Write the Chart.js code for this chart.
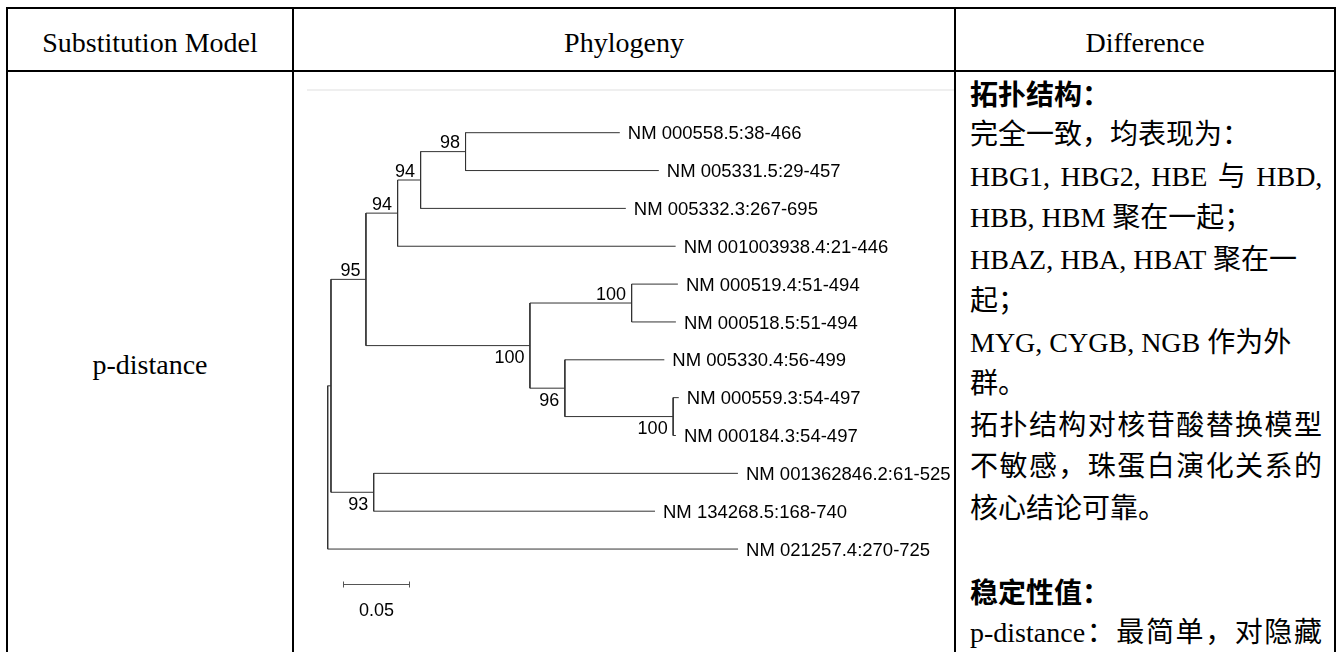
<!DOCTYPE html>
<html>
<head>
<meta charset="utf-8">
<script src="https://cdn.jsdelivr.net/npm/chart.js@4.4.1/dist/chart.umd.min.js"></script>
<style>
html, body { margin: 0; padding: 0; background: #fff; width: 1342px; height: 652px; overflow: hidden; }
.ln { position: absolute; background: #000; }
.cell { position: absolute; font-family: "Liberation Serif", "Times New Roman", serif; font-size: 28px; line-height: 28px; color: #000; text-align: center; white-space: nowrap; }
#diff { position: absolute; left: 970px; top: 72.6px; width: 352px; font-family: "Liberation Serif", "Noto Sans CJK SC", serif; font-size: 28px; color: #000; }
#diff div { height: 41.5px; line-height: 41.5px; white-space: nowrap; }
#diff .j { text-align: justify; text-align-last: justify; }
#diff .w { word-spacing: 3.5px; }
#diff b { font-family: "Noto Sans CJK SC", sans-serif; font-weight: 700; }
#imgtop { position: absolute; left: 307px; top: 89px; width: 647px; height: 2px; background: #efefef; }
#tree { position: absolute; left: 307px; top: 91px; }
</style>
</head>
<body>
<div id="imgtop"></div>
<canvas id="tree" width="647" height="561"></canvas>

<div class="cell" style="left:8px;width:284px;top:28.5px">Substitution Model</div>
<div class="cell" style="left:294px;width:660px;top:28.5px">Phylogeny</div>
<div class="cell" style="left:956px;width:378px;top:28.5px">Difference</div>
<div class="cell" style="left:8px;width:284px;top:350.5px">p-distance</div>

<div id="diff">
  <div><b>拓扑结构：</b></div>
  <div>完全一致，均表现为：</div>
  <div class="w">HBG1, HBG2, HBE 与 HBD,</div>
  <div>HBB, HBM 聚在一起；</div>
  <div>HBAZ, HBA, HBAT 聚在一</div>
  <div>起；</div>
  <div>MYG, CYGB, NGB 作为外</div>
  <div>群。</div>
  <div class="j">拓扑结构对核苷酸替换模型</div>
  <div class="j">不敏感，珠蛋白演化关系的</div>
  <div>核心结论可靠。</div>
  <div></div>
  <div><b>稳定性值：</b></div>
  <div class="j">p-distance：最简单，对隐藏</div>
</div>

<!-- table rules -->
<div class="ln" style="left:6px;top:7px;width:1330px;height:2px"></div>
<div class="ln" style="left:6px;top:70px;width:1330px;height:2px"></div>
<div class="ln" style="left:6px;top:7px;width:2px;height:645px"></div>
<div class="ln" style="left:292px;top:7px;width:2px;height:645px"></div>
<div class="ln" style="left:954px;top:7px;width:2px;height:645px"></div>
<div class="ln" style="left:1334px;top:7px;width:2px;height:645px"></div>

<script>
// leaves, top to bottom
const leafNames = [
  'NM 000558.5:38-466',
  'NM 005331.5:29-457',
  'NM 005332.3:267-695',
  'NM 001003938.4:21-446',
  'NM 000519.4:51-494',
  'NM 000518.5:51-494',
  'NM 005330.4:56-499',
  'NM 000559.3:54-497',
  'NM 000184.3:54-497',
  'NM 001362846.2:61-525',
  'NM 134268.5:168-740',
  'NM 021257.4:270-725'
];
// branch length from each leaf to its parent node
const leafBranch = [0.1174, 0.1471, 0.1562, 0.2116, 0.0352, 0.0337, 0.0757, 0.0043, 0.0021, 0.2772, 0.2141, 0.3123];

// internal nodes: children, branch length to parent, bootstrap
const nodeIds      = ['n98', 'n94a', 'n94b', 'n100a', 'n100c', 'n96', 'n100b', 'n95', 'n93', 'nA', 'root'];
const nodeChildren = [['L0','L1'], ['n98','L2'], ['n94a','L3'], ['L4','L5'], ['L7','L8'], ['L6','n100c'],
                      ['n100a','n96'], ['n94b','n100b'], ['L9','L10'], ['n95','n93'], ['nA','L11']];
const nodeBranch   = [0.0342, 0.0175, 0.0241, 0.0774, 0.0824, 0.0266, 0.1248, 0.0266, 0.0325, 0.0025, 0];
const nodeSupport  = [98, 94, 94, 100, 100, 96, 100, 95, 93, null, null];

const scaleBarLength = 0.05;
const scaleBarLabel = '0.05';

// work out node coordinates: x = distance from root, y = leaf order
const pos = {};
const parentOf = {};
function place(id, x0) {
  if (id[0] === 'L') {
    const i = +id.slice(1);
    pos[id] = { x: x0 + leafBranch[i], y: i };
    return pos[id];
  }
  const k = nodeIds.indexOf(id);
  const x = x0 + nodeBranch[k];
  const kids = nodeChildren[k].map(c => { parentOf[c] = id; return place(c, x); });
  pos[id] = { x: x, y: (kids[0].y + kids[kids.length - 1].y) / 2 };
  return pos[id];
}
place('root', 0);

// one dataset per branch segment
const lineColor = '#333';
const datasets = [];
function seg(a, b) {
  datasets.push({ data: [a, b], showLine: true, borderColor: lineColor, borderWidth: 1, pointRadius: 0, fill: false });
}
nodeIds.forEach((id, k) => {
  const p = pos[id];
  const kids = nodeChildren[k];
  const first = pos[kids[0]], last = pos[kids[kids.length - 1]];
  seg({ x: p.x, y: first.y }, { x: p.x, y: last.y });
  kids.forEach(c => seg({ x: p.x, y: pos[c].y }, { x: pos[c].x, y: pos[c].y }));
});

const treeLabels = {
  id: 'treeLabels',
  afterDatasetsDraw(chart) {
    const ctx = chart.ctx;
    const sx = chart.scales.x, sy = chart.scales.y;
    ctx.save();
    ctx.fillStyle = '#000';

    // leaf names
    ctx.font = '18.5px "Liberation Sans", Arial, sans-serif';
    ctx.textAlign = 'left';
    ctx.textBaseline = 'alphabetic';
    leafNames.forEach((name, i) => {
      const p = pos['L' + i];
      ctx.fillText(name, sx.getPixelForValue(p.x) + 8, sy.getPixelForValue(p.y) + 6.6);
    });

    // bootstrap values: above the branch for an upper child, below for a lower one
    ctx.font = '18px "Liberation Sans", Arial, sans-serif';
    ctx.textAlign = 'right';
    nodeIds.forEach((id, k) => {
      if (nodeSupport[k] == null) return;
      const p = pos[id];
      const par = parentOf[id];
      const upper = nodeChildren[nodeIds.indexOf(par)][0] === id;
      const x = sx.getPixelForValue(p.x) - 5.5;
      const y = sy.getPixelForValue(p.y) + (upper ? -3.5 : 17.5);
      ctx.fillText(String(nodeSupport[k]), x, y);
    });

    // scale bar
    const x0 = Math.round(sx.getPixelForValue(0.0119)) + 0.5;
    const x1 = Math.round(sx.getPixelForValue(0.0119 + scaleBarLength)) + 0.5;
    const yb = Math.round(sy.getPixelForValue(11.92)) + 0.5;
    ctx.strokeStyle = '#555';
    ctx.lineWidth = 1;
    ctx.beginPath();
    ctx.moveTo(x0, yb); ctx.lineTo(x1, yb);
    ctx.moveTo(x0, yb - 3); ctx.lineTo(x0, yb + 3);
    ctx.moveTo(x1, yb - 3); ctx.lineTo(x1, yb + 3);
    ctx.stroke();
    ctx.textAlign = 'center';
    ctx.fillText(scaleBarLabel, (x0 + x1) / 2, yb + 31);
    ctx.restore();
  }
};

new Chart(document.getElementById('tree'), {
  type: 'scatter',
  data: { datasets: datasets },
  options: {
    responsive: false,
    animation: false,
    devicePixelRatio: 1,
    layout: { padding: 0 },
    plugins: { legend: { display: false }, tooltip: { enabled: false } },
    scales: {
      x: { type: 'linear', min: -0.01575, max: 0.47664, display: false },
      y: { type: 'linear', min: -1.1017, max: 13.72, reverse: true, display: false }
    }
  },
  plugins: [treeLabels]
});
</script>
</body>
</html>
